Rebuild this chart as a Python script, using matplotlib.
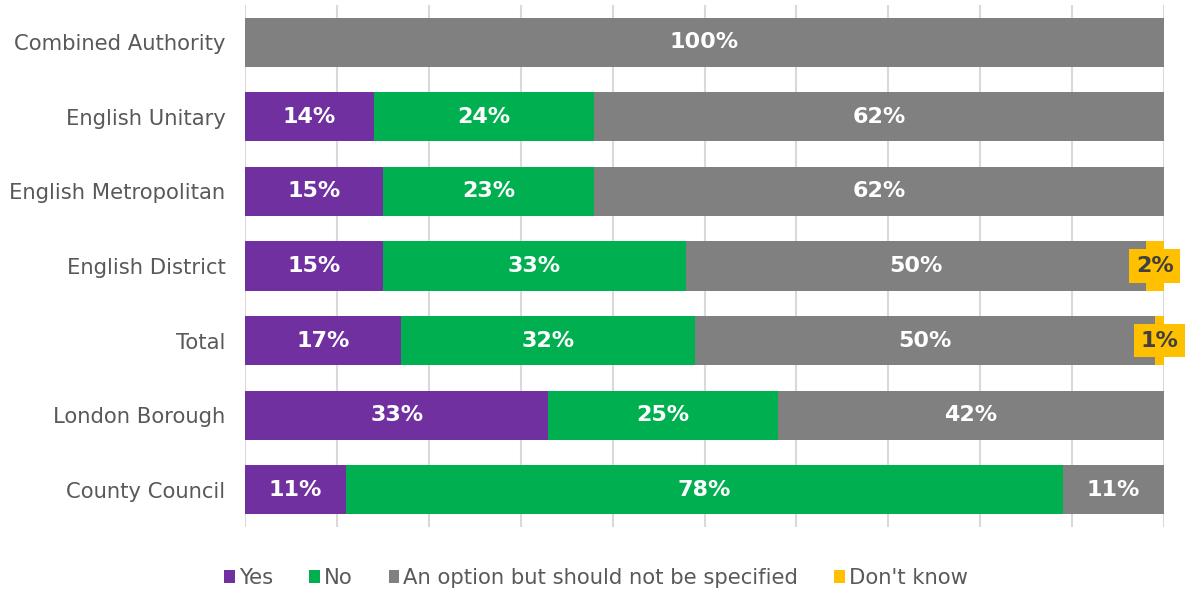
import numpy as np
import matplotlib.pyplot as plt

categories = ["Combined Authority", "English Unitary", "English Metropolitan",
              "English District", "Total", "London Borough", "County Council"]
yes = [0, 14, 15, 15, 17, 33, 11]
no = [0, 24, 23, 33, 32, 25, 78]
option = [100, 62, 62, 50, 50, 42, 11]
dont_know = [0, 0, 0, 2, 1, 0, 0]

series = [
    ("Yes", yes, "#7030A0"),
    ("No", no, "#00B050"),
    ("An option but should not be specified", option, "#808080"),
    ("Don't know", dont_know, "#FFC000"),
]

plt.rcParams["font.family"] = ["DejaVu Sans"]

fig = plt.figure(figsize=(11.88, 5.92), dpi=100)
ax = fig.add_axes([245 / 1188, 65 / 592, 919 / 1188, 522 / 592])

y = np.arange(len(categories))
left = np.zeros(len(categories))
for name, vals, color in series:
    vals = np.array(vals, dtype=float)
    ax.barh(y, vals, left=left, height=0.66, color=color, label=name, zorder=2)
    for yi, (l, v) in enumerate(zip(left, vals)):
        if v <= 0:
            continue
        cx = l + v / 2
        if name == "Don't know":
            ax.text(cx, yi, f"{v:.0f}%", ha="center", va="center", fontsize=16,
                    fontweight="bold", color="#404040", zorder=4, clip_on=False,
                    bbox=dict(boxstyle="square,pad=0.3", fc=color, ec="none"))
        else:
            ax.text(cx, yi, f"{v:.0f}%", ha="center", va="center", fontsize=16,
                    fontweight="bold", color="white", zorder=3)
    left += vals

ax.set_xlim(0, 100)
ax.set_ylim(len(categories) - 0.5, -0.5)
ax.set_yticks(y)
ax.set_yticklabels(categories, fontsize=15.2, color="#595959")
ax.set_xticks(np.arange(0, 101, 10))
ax.set_xticklabels([])
ax.tick_params(axis="both", length=0)
ax.tick_params(axis="y", pad=14)
ax.grid(axis="x", color="#D9D9D9", linewidth=1.5, zorder=0)
ax.set_axisbelow(True)
for s in ax.spines.values():
    s.set_visible(False)

ax.legend(loc="center", bbox_to_anchor=(596 / 1188, 1 - 578 / 592),
          bbox_transform=fig.transFigure, ncol=4, frameon=False,
          fontsize=15.2, handlelength=0.5, handleheight=0.5,
          handletextpad=0.2, columnspacing=1.7, labelcolor="#595959")

fig.savefig("out.png", dpi=100)
